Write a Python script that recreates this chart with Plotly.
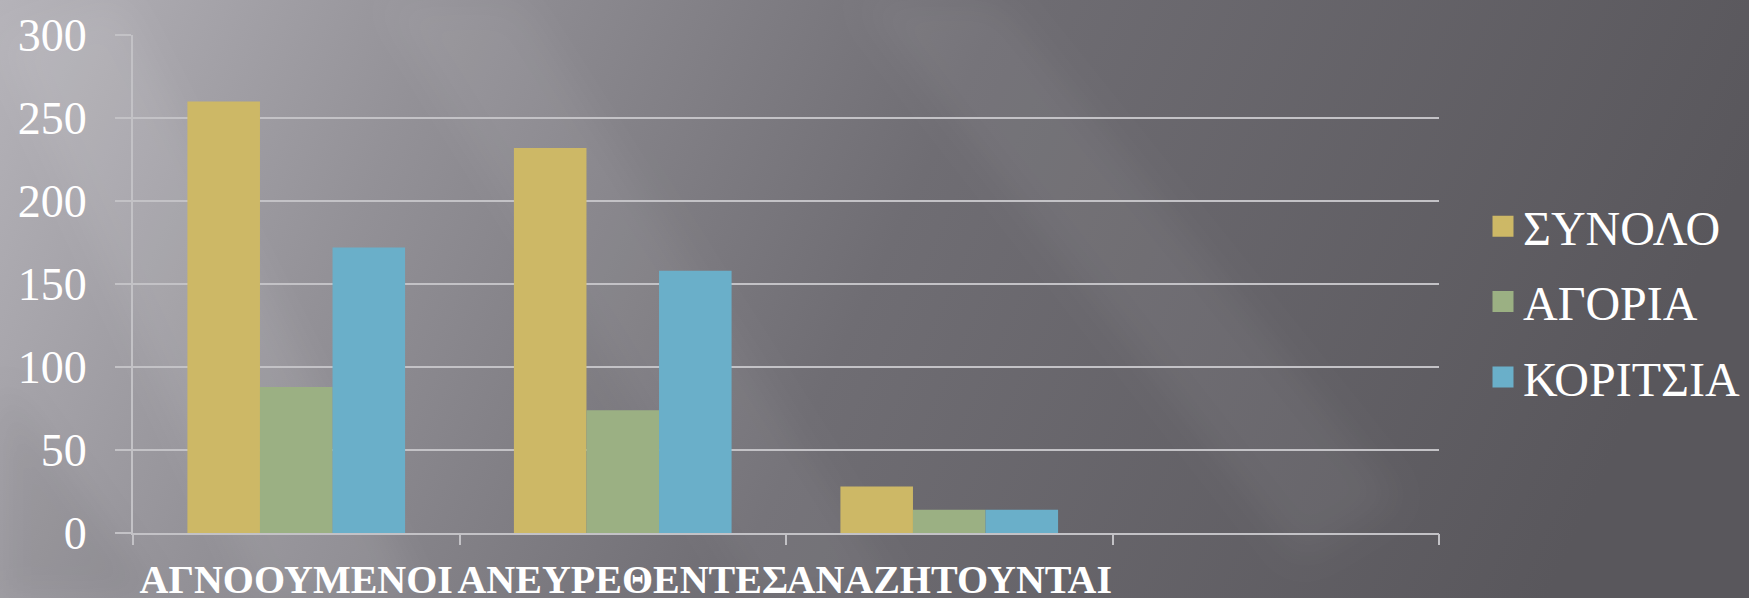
import base64
import plotly.graph_objects as go

# ---- data ----
categories = ["ΑΓΝΟΟΥΜΕΝΟΙ", "ΑΝΕΥΡΕΘΕΝΤΕΣ", "ΑΝΑΖΗΤΟΥΝΤΑΙ"]
n_slots = 4  # the chart reserves a fourth, empty category slot
series_names = ["ΣΥΝΟΛΟ", "ΑΓΟΡΙΑ", "ΚΟΡΙΤΣΙΑ"]
synolo = [260, 232, 28]
agoria = [88, 74, 14]
koritsia = [172, 158, 14]
y_ticks = [0, 50, 100, 150, 200, 250, 300]

colors = ["#cdb866", "#9bb083", "#6aafc9"]
series_values = [synolo, agoria, koritsia]

W, H = 1749, 598
ML, MR, MT, MB = 133, 310, 35, 65
PW, PH = W - ML - MR, H - MT - MB

# ---- background (gradient with soft diagonal light rays) ----
svg = f'''<svg xmlns="http://www.w3.org/2000/svg" width="{W}" height="{H}" viewBox="0 0 {W} {H}" preserveAspectRatio="none">
<defs>
<linearGradient id="g" x1="0" y1="0" x2="1500" y2="700" gradientUnits="userSpaceOnUse">
<stop offset="0" stop-color="#b5b3b9"/>
<stop offset="0.25" stop-color="#939197"/>
<stop offset="0.55" stop-color="#6f6d73"/>
<stop offset="1" stop-color="#59575c"/>
</linearGradient>
<filter id="b"><feGaussianBlur stdDeviation="18"/></filter>
</defs>
<rect width="{W}" height="{H}" fill="url(#g)"/>
<g filter="url(#b)">
<polygon points="0,40 120,0 420,598 260,598" fill="#ffffff" fill-opacity="0.08"/>
<polygon points="380,0 520,0 900,598 760,598" fill="#ffffff" fill-opacity="0.05"/>
<polygon points="860,0 1000,0 1400,500 1300,560" fill="#ffffff" fill-opacity="0.05"/>
<polygon points="0,380 0,598 160,598" fill="#000000" fill-opacity="0.06"/>
</g>
</svg>'''
bg_uri = "data:image/svg+xml;base64," + base64.b64encode(svg.encode("utf-8")).decode("ascii")

fig = go.Figure()

for name, vals, col in zip(series_names, series_values, colors):
    fig.add_trace(go.Bar(
        name=name, x=categories, y=vals,
        marker=dict(color=col, line=dict(width=0)),
        showlegend=False, xaxis="x", yaxis="y",
    ))

# legend entries (square swatches)
for i, (name, col) in enumerate(zip(series_names, colors)):
    fig.add_trace(go.Scatter(
        name=name, x=[None], y=[None], mode="markers",
        marker=dict(symbol="square", size=16, color=col, line=dict(color=col, width=5)),
        legendgroup=f"g{i}", showlegend=True, xaxis="x2", yaxis="y",
    ))

grid_col = "#c3c2c6"
font_family = "Times New Roman, Liberation Serif, serif"

fig.update_layout(
    width=W, height=H,
    margin=dict(l=ML, r=MR, t=MT, b=MB, pad=0, autoexpand=False),
    paper_bgcolor="#6a686e",
    plot_bgcolor="rgba(0,0,0,0)",
    barmode="group",
    bargap=1/3,
    bargroupgap=0,
    font=dict(family=font_family, color="white"),
    images=[dict(
        source=bg_uri, xref="paper", yref="paper",
        x=-ML / PW, y=1 + MT / PH, sizex=W / PW, sizey=H / PH,
        xanchor="left", yanchor="top", sizing="stretch", layer="below",
    )],
    xaxis=dict(
        type="category", categoryorder="array", categoryarray=categories,
        range=[-0.5, n_slots - 0.5], automargin=False,
        showgrid=False, zeroline=False,
        showline=True, linecolor=grid_col, linewidth=2,
        ticks="", ticklabelstandoff=10, tickangle=0,
        tickfont=dict(family=font_family, size=40, color="white", weight="bold"),
    ),
    xaxis2=dict(
        overlaying="x", side="bottom", range=[-0.5, n_slots - 0.5], automargin=False,
        tickvals=[i - 0.5 for i in range(n_slots + 1)],
        showticklabels=False, showgrid=False, zeroline=False, showline=False,
        ticks="outside", ticklen=11, tickwidth=2, tickcolor=grid_col,
    ),
    yaxis=dict(
        range=[0, 300], tickvals=y_ticks, automargin=False,
        showgrid=True, gridcolor=grid_col, gridwidth=2,
        zeroline=False,
        showline=True, linecolor=grid_col, linewidth=2,
        ticks="outside", ticklen=16, tickwidth=2, tickcolor=grid_col,
        ticklabelstandoff=19,
        tickfont=dict(family=font_family, size=46, color="white"),
    ),
    legend=dict(
        xref="container", yref="container",
        x=1483 / W, y=1 - 302 / H, xanchor="left", yanchor="middle",
        font=dict(family=font_family, size=48, color="white"),
        bgcolor="rgba(0,0,0,0)", borderwidth=0,
        tracegroupgap=10, itemwidth=30,
    ),
)

fig.write_html(
    "out.html",
    config={"displayModeBar": False},
    post_script="document.body.style.margin='0';document.body.style.overflow='hidden';",
)
